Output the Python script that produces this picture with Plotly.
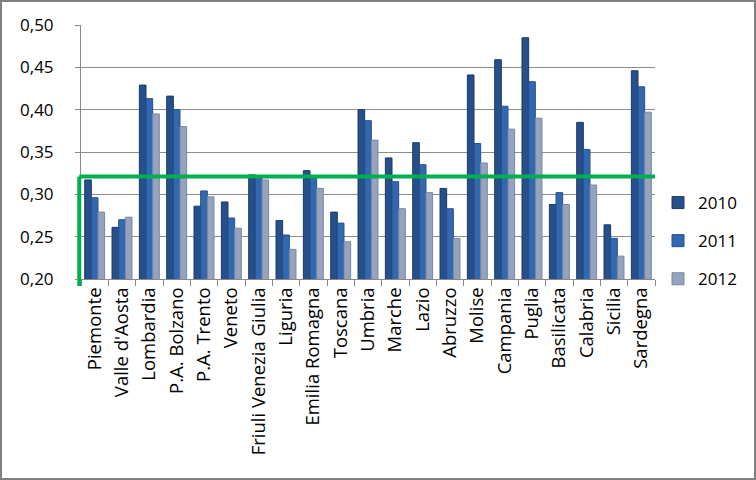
import plotly.graph_objects as go

regions = ["Piemonte", "Valle d'Aosta", "Lombardia", "P.A. Bolzano", "P.A. Trento", "Veneto",
           "Friuli Venezia Giulia", "Liguria", "Emilia Romagna", "Toscana", "Umbria", "Marche",
           "Lazio", "Abruzzo", "Molise", "Campania", "Puglia", "Basilicata", "Calabria",
           "Sicilia", "Sardegna"]
v2010 = [0.317, 0.261, 0.429, 0.416, 0.286, 0.291, 0.323, 0.269, 0.328, 0.279, 0.400, 0.343,
         0.361, 0.307, 0.441, 0.459, 0.485, 0.288, 0.385, 0.264, 0.446]
v2011 = [0.296, 0.270, 0.413, 0.400, 0.304, 0.272, 0.321, 0.252, 0.319, 0.266, 0.387, 0.315,
         0.335, 0.283, 0.360, 0.404, 0.433, 0.302, 0.353, 0.248, 0.427]
v2012 = [0.279, 0.273, 0.395, 0.380, 0.297, 0.260, 0.317, 0.235, 0.307, 0.244, 0.364, 0.283,
         0.302, 0.248, 0.337, 0.377, 0.390, 0.288, 0.311, 0.227, 0.397]
years = ["2010", "2011", "2012"]
series = [v2010, v2011, v2012]
colors = ["#274F8A", "#3268B0", "#96A3BE"]
edges = ["#1C3A66", "#24508E", "#7886A3"]
ref_value = 0.321

W, H = 756, 480
L, R, T, B = 81, 101, 25, 201
pw, ph = W - L - R, H - T - B

fig = go.Figure()
for yr, vals, c, e in zip(years, series, colors, edges):
    fig.add_trace(go.Bar(x=regions, y=vals, name=yr, legendgroup=yr,
                         marker=dict(color=c, line=dict(color=e, width=1))))

ymin, ymax = 0.20, 0.50
frac = (ref_value - ymin) / (ymax - ymin)

fig.update_layout(
    width=W, height=H, autosize=False,
    margin=dict(l=L, r=R, t=T, b=B, pad=0),
    paper_bgcolor="white", plot_bgcolor="white",
    separators=", ",
    barmode="group", bargap=0.27, bargroupgap=0.0,
    font=dict(family="Open Sans", color="black"),
    showlegend=True,
    legend=dict(x=(658 - L) / pw, y=0.37, xanchor="left", yanchor="top",
                font=dict(size=17, family="Open Sans"),
                traceorder="grouped", tracegroupgap=13,
                bgcolor="rgba(0,0,0,0)"),
    xaxis=dict(tickangle=-90, tickfont=dict(size=18.5, family="Open Sans"),
               showline=True, linecolor="#888888", linewidth=1,
               ticks="outside", ticklen=6, tickcolor="#888888", tickson="boundaries",
               showgrid=False, automargin=False),
    yaxis=dict(range=[ymin, ymax], dtick=0.05, tickformat=".2f",
               tickfont=dict(size=17, family="Open Sans"), ticklabelstandoff=18,
               showgrid=True, gridcolor="#8C8C8C", gridwidth=1,
               showline=True, linecolor="#888888", linewidth=1,
               ticks="outside", ticklen=5, tickcolor="#888888", zeroline=False,
               automargin=False),
    shapes=[
        dict(type="line", xref="x domain", yref="y", x0=-0.003, x1=1.0,
             y0=ref_value, y1=ref_value, line=dict(color="#00B050", width=4)),
        dict(type="line", xref="x domain", yref="y domain", x0=-0.003, x1=-0.003,
             y0=frac, y1=-0.028, line=dict(color="#00B050", width=4)),
        dict(type="rect", xref="paper", yref="paper",
             x0=(-L + 1) / pw, x1=1 + (R - 1) / pw, y0=(-B + 1) / ph, y1=1 + (T - 1) / ph,
             line=dict(color="#808080", width=2)),
    ],
)

fig.write_html("out.html", config={"responsive": False})
